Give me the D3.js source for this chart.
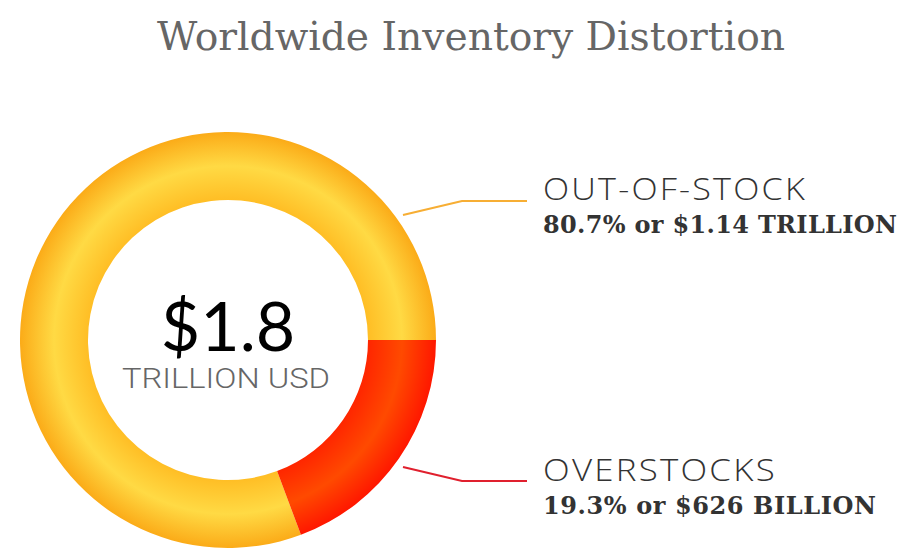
<!DOCTYPE html>
<html><head><meta charset="utf-8">
<script src="https://cdn.jsdelivr.net/npm/d3@7"></script>
<style>body{margin:0;background:#fff}svg{display:block}</style>
</head><body>
<svg id="c" width="921" height="560"></svg>
<script>
const title = "Worldwide Inventory Distortion";
const categories = ["OUT-OF-STOCK", "OVERSTOCKS"];
const percents = [80.7, 19.3];
const amounts = ["$1.14 TRILLION", "$626 BILLION"];
const totalLabel = "$1.8";
const totalUnit = "TRILLION USD";

const svg = d3.select("#c");
const cx = 228, cy = 340, R = 208, r = 140;
const defs = svg.append("defs");
const grads = [
  {id:"gY", stops:[[0,"#FFC02A"],[r/R,"#FFBE25"],[(r+R)/2/R,"#FFDA44"],[1,"#FBAB18"]]},
  {id:"gR", stops:[[0,"#FF2A00"],[r/R,"#FF2600"],[(r+R)/2/R,"#FF4A00"],[1,"#FF1700"]]}
];
grads.forEach(g=>{
  const rg = defs.append("radialGradient").attr("id",g.id)
    .attr("gradientUnits","userSpaceOnUse").attr("cx",0).attr("cy",0).attr("r",R);
  g.stops.forEach(s=>rg.append("stop").attr("offset",s[0]).attr("stop-color",s[1]));
});

const sum = d3.sum(percents);
const start = Math.PI/2 - 2*Math.PI*percents[0]/sum;
const pie = d3.pie().sort(null).startAngle(start).endAngle(start+2*Math.PI);
const arc = d3.arc().innerRadius(r).outerRadius(R);
const g = svg.append("g").attr("transform",`translate(${cx},${cy})`);
g.selectAll("path").data(pie(percents)).join("path")
  .attr("d",arc).attr("fill",(d,i)=>`url(#${grads[i].id})`);

svg.append("text").attr("x",471).attr("y",50).attr("text-anchor","middle")
  .attr("font-family","DejaVu Serif").attr("font-size",40).attr("fill","#666")
  .attr("textLength",628).attr("lengthAdjust","spacingAndGlyphs").text(title);

svg.append("text").attr("x",228).attr("y",351).attr("text-anchor","middle")
  .attr("font-family","Lato").attr("font-size",68).attr("fill","#000").text(totalLabel);
svg.append("text").attr("x",226).attr("y",388).attr("text-anchor","middle")
  .attr("font-family","Roboto").attr("font-weight",300).attr("font-size",27).attr("fill","#666")
  .attr("textLength",208).attr("lengthAdjust","spacingAndGlyphs").text(totalUnit);

const lineColors = ["#F7AE34","#E0202E"];
const leaders = [[[403,215],[462,201],[527,201]],[[403,467],[462,481],[527,481]]];
const labelY = [200, 481];
const lens1 = [264, 234];
const lens2 = [354, 333];
categories.forEach((c,i)=>{
  svg.append("path").attr("d",d3.line()(leaders[i])).attr("fill","none")
    .attr("stroke",lineColors[i]).attr("stroke-width",2.2);
  svg.append("text").attr("x",543).attr("y",labelY[i])
    .attr("font-family","Open Sans").attr("font-weight",300).attr("font-size",31).attr("fill","#333")
    .attr("letter-spacing",2)
    .attr("textLength",lens1[i]).attr("lengthAdjust","spacingAndGlyphs").text(c);
  svg.append("text").attr("x",543).attr("y",labelY[i]+33)
    .attr("font-family","DejaVu Serif").attr("font-weight","bold").attr("font-size",24).attr("fill","#333")
    .attr("textLength",lens2[i]).attr("lengthAdjust","spacing")
    .text(`${percents[i]}% or ${amounts[i]}`);
});
</script>
</body></html>
